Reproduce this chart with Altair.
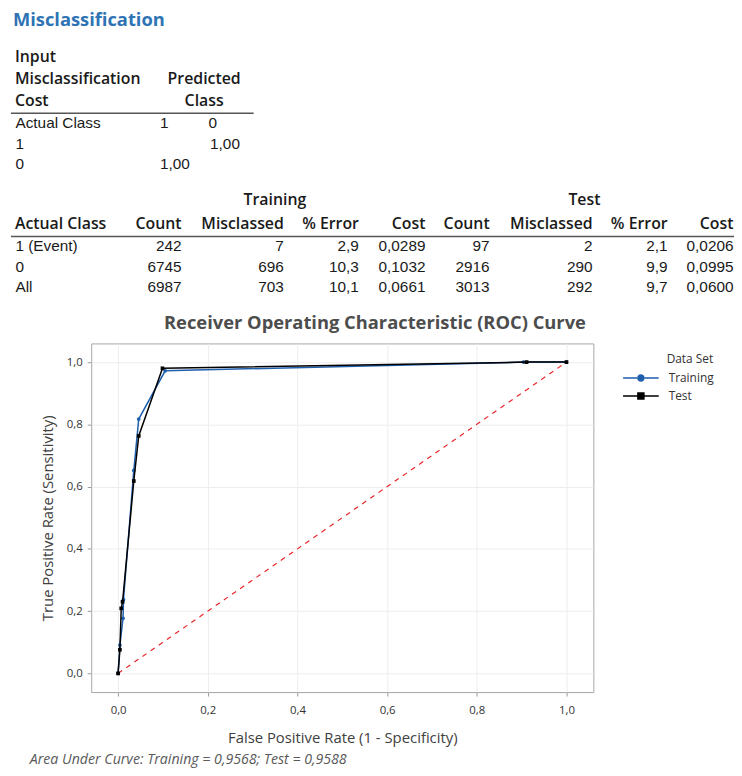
import altair as alt
import pandas as pd

# ---------------- ROC data ----------------
train_fpr = [0.0, 0.004, 0.011, 0.012, 0.035, 0.046, 0.105, 0.904, 1.0]
train_tpr = [0.0, 0.091, 0.177, 0.237, 0.652, 0.817, 0.972, 1.0, 1.0]
test_fpr = [0.0, 0.004, 0.007, 0.010, 0.035, 0.046, 0.099, 0.911, 1.0]
test_tpr = [0.0, 0.076, 0.209, 0.230, 0.618, 0.763, 0.980, 1.0, 1.0]
diag_fpr = [0.0, 1.0]
diag_tpr = [0.0, 1.0]

series_names = ["Training", "Test"]
series_colors = ["#1f5fae", "#000000"]
auc_values = [0.9568, 0.9588]
tick_values = [0.0, 0.2, 0.4, 0.6, 0.8, 1.0]

# ---------------- cost table ----------------
cost_header_left = ["Input", "Misclassification", "Cost"]
cost_header_pred = ["Predicted", "Class"]
cost_row_labels = ["Actual Class", "1", "0"]
cost_pred_classes = ["1", "0"]
cost_matrix = [[None, 1.00], [1.00, None]]

# ---------------- summary table ----------------
group_names = ["Training", "Test"]
col_headers = ["Actual Class", "Count", "Misclassed", "% Error", "Cost",
               "Count", "Misclassed", "% Error", "Cost"]
class_labels = ["1 (Event)", "0", "All"]
train_count = [242, 6745, 6987]
train_miss = [7, 696, 703]
train_err = [2.9, 10.3, 10.1]
train_cost = [0.0289, 0.1032, 0.0661]
test_count = [97, 2916, 3013]
test_miss = [2, 290, 292]
test_err = [2.1, 9.9, 9.7]
test_cost = [0.0206, 0.0995, 0.0600]


def dec(v, n):
    return f"{v:.{n}f}".replace(".", ",")


# ---------------- layout helpers ----------------
OX, OY = 92, 344          # page position of the plot area (OY shifted 1px to lift texts)
HEAD = "Open Sans"
BODY = "Liberation Sans"


def text_layer(text, x, y, align="left", font=HEAD, size=15, weight="normal",
               color="#1a1a1a", style="normal", lh=None):
    df = pd.DataFrame({"t": [text]})
    mk = dict(align=align, baseline="middle", font=font, fontSize=size,
              fontWeight=weight, color=color, fontStyle=style)
    if lh:
        mk.update(lineBreak="\n", lineHeight=lh)
    return alt.Chart(df).mark_text(**mk).encode(
        x=alt.value(x - OX), y=alt.value(y - OY), text="t:N")


def hrule(x1, x2, y, color="#555555", w=1.5):
    df = pd.DataFrame({"a": [0]})
    return alt.Chart(df).mark_rule(color=color, strokeWidth=w).encode(
        x=alt.value(x1 - OX), x2=alt.value(x2 - OX), y=alt.value(y - OY + 1))


texts = []
# Section title
texts.append(text_layer("Misclassification", 13, 18, size=18.5, weight="bold", color="#2e74b5"))

# Cost table (multi-line blocks: y is the first line)
texts.append(text_layer("\n".join(cost_header_left), 15, 55, size=16, weight=600, lh=22))
texts.append(text_layer("\n".join(cost_header_pred), 206, 77, align="center", size=16, weight=600, lh=22))
texts.append(hrule(11, 256, 110.7))
texts.append(text_layer("\n".join(cost_row_labels), 15.5, 121.7, font=BODY, size=15.5, lh=20.8))
cost_col_x = [161.5, 210.5]
cost_row_y = [142.5, 163.3]
for j, (cls, cx) in enumerate(zip(cost_pred_classes, cost_col_x)):
    texts.append(text_layer(cls, cx, 121.7, font=BODY, size=15.5))
    for i, ry in enumerate(cost_row_y):
        v = cost_matrix[i][j]
        if v is not None:
            texts.append(text_layer(dec(v, 2), cx + (1.5 if j == 1 else 0), ry, font=BODY, size=15.5))

# Summary table
texts.append(text_layer(group_names[0], 277.5, 199, align="center", size=16, weight=600))
texts.append(text_layer(group_names[1], 590, 199, align="center", size=16, weight=600))
right_edges = [183.3, 286.5, 362.3, 429.5, 494.3, 598.3, 674, 740.5]
texts.append(text_layer(col_headers[0], 15, 223.3, size=16, weight=600))
for h, xr in zip(col_headers[1:], right_edges):
    texts.append(text_layer(h, xr, 223.3, align="right", size=16, weight=600))
texts.append(hrule(11, 742, 235))
row_y = 246
texts.append(text_layer("\n".join(class_labels), 15.5, row_y, font=BODY, size=15.5, lh=20.7))
columns = [
    [str(v) for v in train_count],
    [str(v) for v in train_miss],
    [dec(v, 1) for v in train_err],
    [dec(v, 4) for v in train_cost],
    [str(v) for v in test_count],
    [str(v) for v in test_miss],
    [dec(v, 1) for v in test_err],
    [dec(v, 4) for v in test_cost],
]
for col, xr in zip(columns, right_edges):
    texts.append(text_layer("\n".join(col), xr, row_y, align="right", font=BODY, size=15.5, lh=20.7))

# ROC title and footnote
texts.append(text_layer("Receiver Operating Characteristic (ROC) Curve", 378.5, 323.3,
                        align="center", size=18.5, weight="bold", color="#4d4d4d"))
texts.append(text_layer(
    f"Area Under Curve: {series_names[0]} = {dec(auc_values[0], 4)}; {series_names[1]} = {dec(auc_values[1], 4)}",
    30, 765, size=14.3, style="italic", color="#595959"))

# ---------------- ROC chart ----------------
roc_df = pd.DataFrame({
    "set": [series_names[0]] * len(train_fpr) + [series_names[1]] * len(test_fpr),
    "fpr": train_fpr + test_fpr,
    "tpr": train_tpr + test_tpr,
    "ord": list(range(len(train_fpr))) + list(range(len(test_fpr))),
})
diag_df = pd.DataFrame({"fpr": diag_fpr, "tpr": diag_tpr})

label_expr = "replace(format(datum.value, '.1f'), '.', ',')"
x_axis = alt.Axis(values=tick_values, labelExpr=label_expr,
                  title="False Positive Rate (1 - Specificity)",
                  titleY=46, titleBaseline="middle", labelPadding=9)
y_axis = alt.Axis(values=tick_values, labelExpr=label_expr,
                  title="True Positive Rate (Sensitivity)",
                  titleX=-44, titleY=176, titleAngle=270, titleBaseline="middle",
                  titleAlign="center", labelPadding=5)
xs = alt.Scale(domain=[-0.06, 1.06], nice=False, zero=False)
ys = alt.Scale(domain=[-0.06, 1.06], nice=False, zero=False)
X = alt.X("fpr:Q", scale=xs, axis=x_axis)
Y = alt.Y("tpr:Q", scale=ys, axis=y_axis)

# legend symbols: line with a marker in the middle (filled paths)
BAR = "M-2,-0.085H-0.4V0.085H-2Z M0.4,-0.085H2V0.085H0.4Z "
P1 = BAR + "M-0.42,0A0.42,0.42,0,1,0,0.42,0A0.42,0.42,0,1,0,-0.42,0Z"
P2 = BAR + "M-0.42,-0.42H0.42V0.42H-0.42Z"
legend = alt.Legend(
    title="Data Set", orient="none", legendX=546, legendY=11,
    symbolSize=324, symbolOpacity=1, symbolStrokeWidth=0, labelOffset=19, rowPadding=3,
    titlePadding=3, titleAnchor="end", titleFont=HEAD, titleFontSize=12, titleFontWeight="normal",
    titleColor="#333333", labelFont=HEAD, labelFontSize=12, labelColor="#333333",
)
legend_layer = alt.Chart(roc_df).transform_filter("false").mark_point(filled=True, opacity=1).encode(
    x=X, y=Y,
    color=alt.Color("set:N", scale=alt.Scale(domain=series_names, range=series_colors), legend=legend),
    shape=alt.Shape("set:N", scale=alt.Scale(domain=series_names, range=[P1, P2]), legend=legend),
)

diag = alt.Chart(diag_df).mark_line(color="#e8262a", strokeDash=[5, 5], strokeWidth=1.2).encode(x=X, y=Y)


def series_layers(name, col, shape):
    b = alt.Chart(roc_df).transform_filter(f"datum.set == '{name}'").encode(x=X, y=Y, order="ord:Q")
    return [b.mark_line(color=col, strokeWidth=1.5),
            b.mark_point(shape=shape, filled=True, size=14, opacity=1, color=col)]


layers = [diag] + series_layers(series_names[0], series_colors[0], "circle") \
    + series_layers(series_names[1], series_colors[1], "square") + [legend_layer]

chart = alt.layer(*layers, *texts).properties(
    width=507, height=352,
    autosize=alt.AutoSizeParams(type="none"),
    padding={"left": 84, "top": 335, "right": 142, "bottom": 73},
).configure_view(
    stroke="#a6a6a6", strokeWidth=1,
).configure_axis(
    grid=True, gridColor="#ededed", gridWidth=1, domain=False,
    tickColor="#9a9a9a", tickSize=4,
    labelFont=HEAD, labelFontSize=11.5, labelColor="#333333",
    titleFont=HEAD, titleFontSize=15, titleFontWeight="normal", titleColor="#404040",
)

chart.save("out.html", embed_options={"renderer": "svg", "actions": False})
